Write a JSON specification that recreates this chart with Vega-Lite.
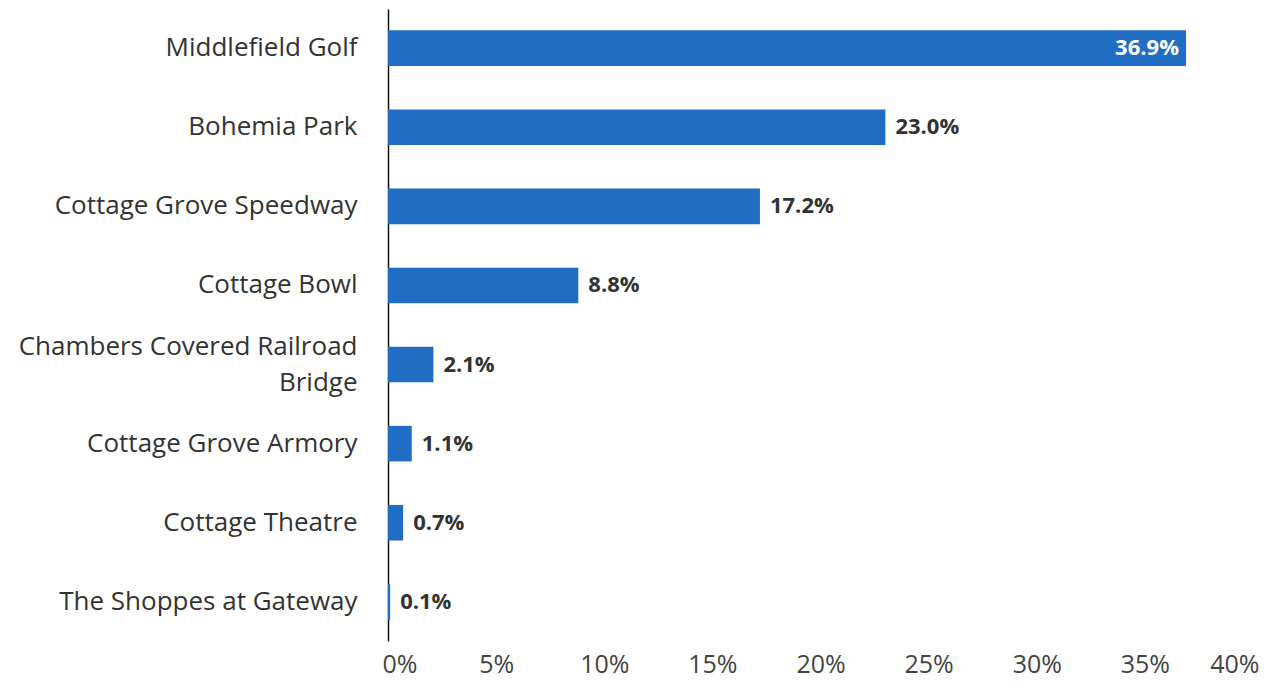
{
  "$schema": "https://vega.github.io/schema/vega-lite/v6.json",
  "width": 865,
  "height": 632,
  "autosize": {"type": "none"},
  "padding": {"left": 388, "top": 9, "right": 19, "bottom": 49},
  "background": "white",
  "config": {"view": {"stroke": null}, "font": "Open Sans"},
  "data": {
    "values": [
      {"name": "Middlefield Golf", "pct": 0.369},
      {"name": "Bohemia Park", "pct": 0.230},
      {"name": "Cottage Grove Speedway", "pct": 0.172},
      {"name": "Cottage Bowl", "pct": 0.088},
      {"name": "Chambers Covered Railroad Bridge", "pct": 0.021},
      {"name": "Cottage Grove Armory", "pct": 0.011},
      {"name": "Cottage Theatre", "pct": 0.007},
      {"name": "The Shoppes at Gateway", "pct": 0.001}
    ]
  },
  "encoding": {
    "y": {
      "field": "name", "type": "nominal", "sort": null, "title": null,
      "scale": {"paddingInner": 0.55, "paddingOuter": 0.27},
      "axis": {
        "domain": true, "domainColor": "#111", "domainWidth": 1.5,
        "ticks": false, "grid": false,
        "labelFont": "Open Sans", "labelFontSize": 26, "labelColor": "#333",
        "labelPadding": 31, "labelLimit": 400, "labelLineHeight": 36,
        "labelOffset": {"condition": {"test": "datum.value == 'Chambers Covered Railroad Bridge'", "value": -18}, "value": 0},
        "labelExpr": "datum.value == 'Chambers Covered Railroad Bridge' ? ['Chambers Covered Railroad', 'Bridge'] : datum.label"
      }
    },
    "x": {
      "field": "pct", "type": "quantitative", "title": null,
      "scale": {"domain": [0, 0.4], "nice": false},
      "axis": {
        "values": [0, 0.05, 0.1, 0.15, 0.2, 0.25, 0.3, 0.35, 0.4],
        "format": ".0%", "domain": false, "ticks": false, "grid": false,
        "labelFont": "Open Sans", "labelFontSize": 25, "labelColor": "#444",
        "labelPadding": 11, "labelFlush": true, "labelFlushOffset": 6
      }
    }
  },
  "layer": [
    {"mark": {"type": "bar", "color": "#1f6ec4"}},
    {
      "transform": [{"filter": "datum.pct < 0.3"}],
      "mark": {"type": "text", "align": "left", "dx": 10, "fontWeight": "bold", "fontSize": 22, "color": "#333", "font": "Open Sans"},
      "encoding": {"text": {"field": "pct", "type": "quantitative", "format": ".1%"}}
    },
    {
      "transform": [{"filter": "datum.pct >= 0.3"}],
      "mark": {"type": "text", "align": "right", "dx": -7, "fontWeight": "bold", "fontSize": 22, "color": "white", "font": "Open Sans"},
      "encoding": {"text": {"field": "pct", "type": "quantitative", "format": ".1%"}}
    }
  ]
}
